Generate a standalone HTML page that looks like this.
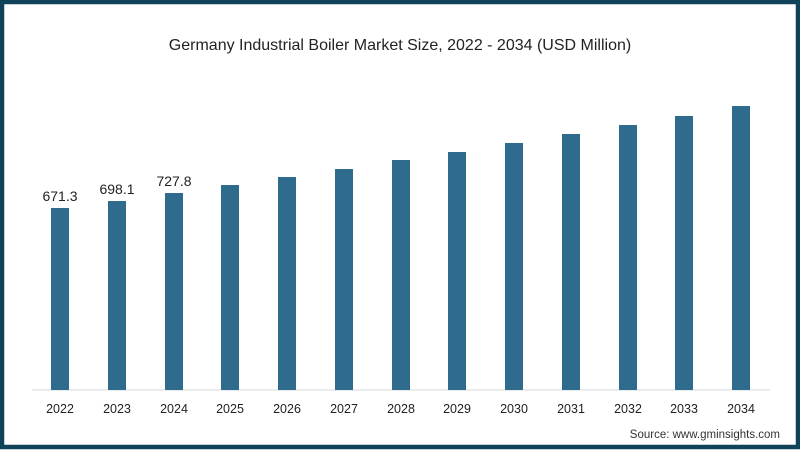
<!DOCTYPE html>
<html><head><style>
body{margin:0;width:800px;height:450px;overflow:hidden;background:#fff;font-family:"Liberation Sans",sans-serif}
</style></head><body>
<svg width="800" height="450" xmlns="http://www.w3.org/2000/svg" font-family="Liberation Sans, sans-serif">
<rect x="2" y="2" width="796" height="445" fill="#fff" stroke="#10435a" stroke-width="4.5"/>
<text x="400" y="50" text-anchor="middle" font-size="16" fill="#222">Germany Industrial Boiler Market Size, 2022 - 2034 (USD Million)</text>
<line x1="32" y1="390" x2="770" y2="390" stroke="#d8d8d8" stroke-width="1"/>
<g fill="#2e6b8c">
<rect x="51" y="208" width="18" height="182"/>
<rect x="108" y="201" width="18" height="189"/>
<rect x="165" y="193" width="18" height="197"/>
<rect x="221" y="185" width="18" height="205"/>
<rect x="278" y="177" width="18" height="213"/>
<rect x="335" y="169" width="18" height="221"/>
<rect x="392" y="160" width="18" height="230"/>
<rect x="448" y="152" width="18" height="238"/>
<rect x="505" y="143" width="18" height="247"/>
<rect x="562" y="134" width="18" height="256"/>
<rect x="619" y="125" width="18" height="265"/>
<rect x="675" y="116" width="18" height="274"/>
<rect x="732" y="106" width="18" height="284"/>
</g>
<g font-size="14" fill="#222" text-anchor="middle">
<text x="60" y="201">671.3</text>
<text x="117" y="194">698.1</text>
<text x="174" y="186">727.8</text>
</g>
<g font-size="12.5" fill="#222" text-anchor="middle">
<text x="60" y="413">2022</text><text x="117" y="413">2023</text><text x="174" y="413">2024</text>
<text x="230" y="413">2025</text><text x="287" y="413">2026</text><text x="344" y="413">2027</text>
<text x="401" y="413">2028</text><text x="457" y="413">2029</text><text x="514" y="413">2030</text>
<text x="571" y="413">2031</text><text x="628" y="413">2032</text><text x="684" y="413">2033</text>
<text x="741" y="413">2034</text>
</g>
<text x="780" y="438" text-anchor="end" font-size="11.5" fill="#333">Source: www.gminsights.com</text>
</svg>
</body></html>
